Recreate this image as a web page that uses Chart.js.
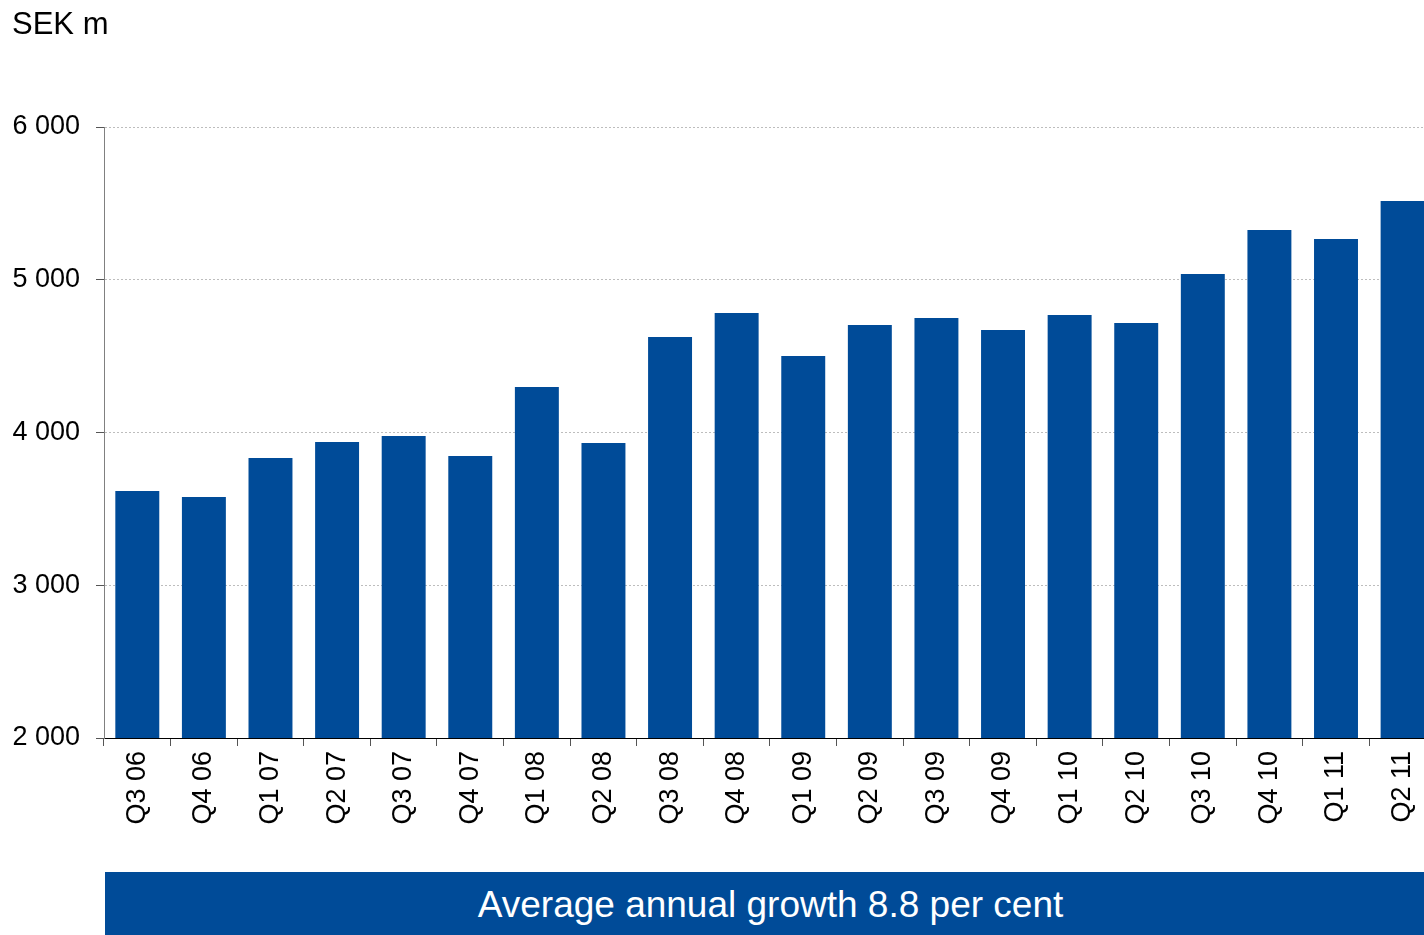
<!DOCTYPE html>
<html>
<head>
<meta charset="utf-8">
<script src="https://cdn.jsdelivr.net/npm/chart.js@4"></script>
<style>
    body { margin: 0; background: #fff; overflow: hidden; width: 1424px; height: 935px; position: relative; font-family: "Liberation Sans", Arial, sans-serif; }
    #unit { position: absolute; left: 12px; top: 6px; font-size: 31px; color: #000; }
    #chartBox { position: absolute; left: 0; top: 0; width: 1424px; height: 870px; overflow: hidden; }
    #banner { position: absolute; left: 105px; top: 872px; width: 1331px; height: 70px; background: #004B98; color: #fff; font-size: 37px; text-align: center; line-height: 66px; }
</style>
</head>
<body>
<div id="chartBox"><canvas id="salesChart" width="1440" height="860"></canvas></div>
<div id="unit">SEK m</div>
<div id="banner">Average annual growth 8.8 per cent</div>
<script>
// quarters and sales, SEK m
const quarters = ['Q3 06', 'Q4 06', 'Q1 07', 'Q2 07', 'Q3 07', 'Q4 07', 'Q1 08', 'Q2 08', 'Q3 08', 'Q4 08',
    'Q1 09', 'Q2 09', 'Q3 09', 'Q4 09', 'Q1 10', 'Q2 10', 'Q3 10', 'Q4 10', 'Q1 11', 'Q2 11'];
const sales = [3617, 3578, 3833, 3938, 3977, 3846, 4298, 3931, 4625, 4782,
    4501, 4704, 4750, 4671, 4769, 4717, 5038, 5326, 5267, 5516];
const yMin = 2000;
const yMax = 6000;
const yStep = 1000;

function formatThousands(v) {
    return String(v).replace(/\B(?=(\d{3})+(?!\d))/g, ' ');
}

Chart.defaults.font.family = '"Liberation Sans", Arial, sans-serif';
Chart.defaults.color = '#000';

const ctx = document.getElementById('salesChart');
new Chart(ctx, {
    type: 'bar',
    data: {
        labels: quarters,
        datasets: [{
            label: 'Sales',
            data: sales,
            backgroundColor: '#004B98',
            borderWidth: 0,
            barPercentage: 0.66,
            categoryPercentage: 1
        }]
    },
    options: {
        responsive: false,
        animation: false,
        devicePixelRatio: 1,
        layout: { padding: { top: 127, right: 0, left: 0, bottom: 0 } },
        plugins: {
            legend: { display: false },
            tooltip: { enabled: false }
        },
        scales: {
            x: {
                grid: {
                    display: true,
                    offset: true,
                    drawOnChartArea: false,
                    drawTicks: true,
                    tickLength: 8,
                    color: '#555'
                },
                border: { color: '#000', width: 1 },
                ticks: {
                    font: { size: 27 },
                    minRotation: 90,
                    maxRotation: 90,
                    padding: 5,
                    autoSkip: false
                },
                afterFit: function (scale) { scale.height = 122; }
            },
            y: {
                min: yMin,
                max: yMax,
                grid: {
                    color: '#bdbdbd',
                    tickColor: '#555',
                    tickLength: 8,
                    drawTicks: true
                },
                // in v4 border.dash dashes the grid lines
                border: { color: '#808080', width: 1, dash: [2, 2] },
                ticks: {
                    stepSize: yStep,
                    font: { size: 27 },
                    padding: 16,
                    callback: function (v) { return formatThousands(v); }
                },
                afterFit: function (scale) { scale.width = 104; }
            }
        }
    }
});
</script>
</body>
</html>
